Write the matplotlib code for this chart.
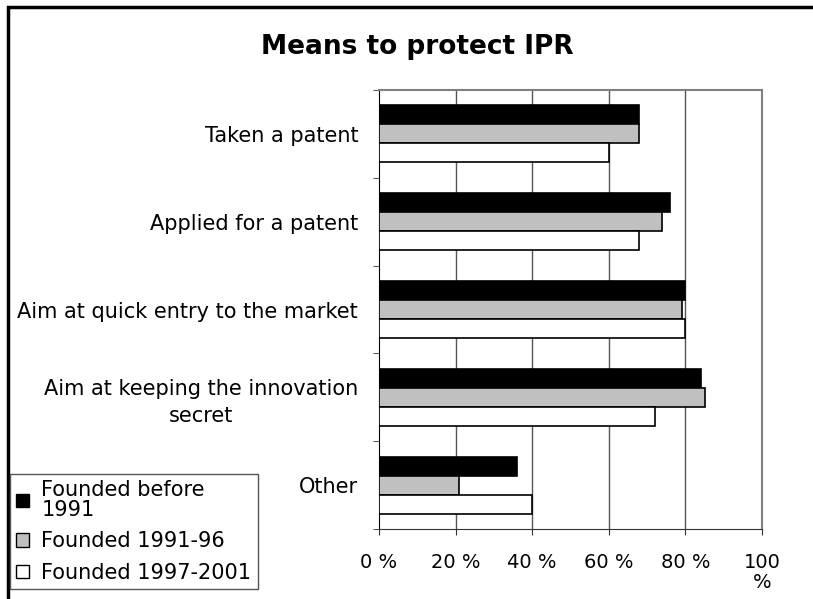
import numpy as np
import matplotlib.pyplot as plt
from matplotlib.patches import Patch, Rectangle

plt.rcParams['font.family'] = ['DejaVu Sans']

# Data (percent)
categories = ['Taken a patent', 'Applied for a patent',
              'Aim at quick entry to the market',
              'Aim at keeping the innovation\nsecret', 'Other']
before_1991 = [68, 76, 80, 84, 36]
f1991_96 = [68, 74, 79, 85, 21]
f1997_2001 = [60, 68, 80, 72, 40]
series_names = ['Founded before\n1991', 'Founded 1991-96', 'Founded 1997-2001']
xticks = [0, 20, 40, 60, 80, 100]
xtick_labels = ['0 %', '20 %', '40 %', '60 %', '80 %', '100\n%']

fig = plt.figure(figsize=(8.13, 5.99), dpi=100)
ax = fig.add_axes([379/813, 1 - 529/599, (762 - 379)/813, (529 - 90)/599])

y = np.arange(len(categories))
h = 0.216
ax.barh(y - h, before_1991, height=h, color='black', edgecolor='black', lw=1.2, zorder=3)
ax.barh(y, f1991_96, height=h, color='#c0c0c0', edgecolor='black', lw=1.2, zorder=3)
ax.barh(y + h, f1997_2001, height=h, color='white', edgecolor='black', lw=1.2, zorder=3)

ax.set_xlim(0, 100)
ax.set_ylim(len(categories) - 0.5, -0.5)

#Gridlines
for xv in xticks[1:-1]:
    ax.axvline(xv, color='#555555', lw=1, zorder=1)

ax.set_xticks(xticks)
ax.set_xticklabels(xtick_labels, fontsize=14, multialignment='center', linespacing=1.1)
ax.set_yticks(y)
ax.set_yticklabels(categories, fontsize=15, multialignment='center', linespacing=1.4)
ax.set_yticks(np.arange(len(categories) + 1) - 0.5, minor=True)
ax.tick_params(axis='y', which='major', length=0, pad=15)
ax.tick_params(axis='y', which='minor', length=4, direction='out', color='#333333')
ax.tick_params(axis='x', which='major', length=4, direction='out', pad=13, color='#333333')

for s in ['top', 'right']:
    ax.spines[s].set_color('#808080')
    ax.spines[s].set_linewidth(1.5)
ax.spines['left'].set_color('black')
ax.spines['bottom'].set_color('#333333')

fig.text(417/813, 1 - 47/599, 'Means to protect IPR', fontsize=19, fontweight='bold',
         ha='center', va='center')

handles = [Patch(facecolor='black', edgecolor='black'),
           Patch(facecolor='#c0c0c0', edgecolor='black'),
           Patch(facecolor='white', edgecolor='black')]
leg = fig.legend(handles, series_names, loc='lower left',
                 bbox_to_anchor=(10/813, 1 - 589/599), fontsize=15,
                 handlelength=0.6, handleheight=0.6, handletextpad=0.6,
                 labelspacing=0.55, borderpad=0.3, borderaxespad=0,
                 fancybox=False, framealpha=1, edgecolor='#555555')
leg.get_frame().set_linewidth(1)
for t in leg.get_texts():
    t.set_linespacing(1.0)

#Figure border
fig.patches.append(Rectangle((8/813, -0.1), 1.2, 1.1 - 7/599, transform=fig.transFigure,
                             fill=False, edgecolor='black', lw=2.5, clip_on=False))

plt.savefig('out.png', dpi=100)
